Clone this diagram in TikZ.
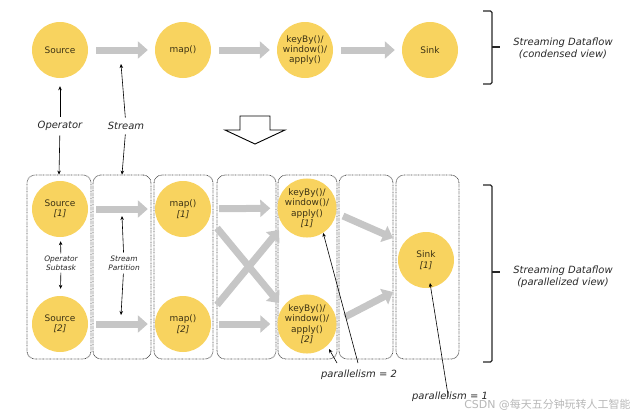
\documentclass[tikz,border=0pt]{standalone}
\usepackage{fontspec}
\setmainfont{DejaVu Sans}
\newfontfamily\cjk{Noto Sans CJK SC}
\usetikzlibrary{arrows.meta}
\definecolor{opyellow}{RGB}{248,211,95}
\definecolor{flowgray}{RGB}{198,198,198}
\definecolor{txtdark}{RGB}{40,40,40}
\definecolor{optxt}{RGB}{60,50,20}
\begin{document}
\begin{tikzpicture}[x=1bp,y=-1bp,
  op/.style={circle, fill=opyellow, minimum size=56bp, inner sep=0pt, align=center,
    font=\fontsize{9}{10.5}\selectfont, text=optxt},
  flow/.style={draw=flowgray, line width=7bp, -{Triangle[width=17bp,length=10bp]},
    shorten <=8bp, shorten >=7bp},
  flowc/.style={draw=flowgray, line width=7bp, -{Triangle[width=17bp,length=10bp]}},
  boxx/.style={draw=black!70, dash pattern=on 0.7bp off 0.7bp, line width=0.8bp, rounded corners=8bp,
    minimum height=184bp, inner sep=0pt},
  lbl/.style={font=\fontsize{10}{12}\selectfont\itshape, text=txtdark, align=center},
  slbl/.style={font=\fontsize{7.5}{9}\selectfont\itshape, text=txtdark, align=center, inner sep=1bp},
  ptr/.style={-{Stealth[length=4bp,width=3.5bp]}, line width=0.6bp, black},
  brk/.style={line width=1.1bp, black!85, rounded corners=1.5bp}
]
\useasboundingbox (0,0) rectangle (640,416);

% ---------- condensed view ----------
\node[op] (src) at (60,50) {Source};
\node[op] (map) at (183,50) {map()};
\node[op] (key) at (305,50) {keyBy()/\\window()/\\apply()};
\node[op] (sink) at (430,50) {Sink};
\draw[flow] (src) -- (map);
\draw[flow] (map) -- (key);
\draw[flow] (key) -- (sink);

\draw[brk] (483,11) -- (492,11) -- (492,84) -- (483,84);
\draw[brk] (492,47) -- (500,47);
\node[lbl] (cview) at (563,48) {Streaming Dataflow\\(condensed view)};

% labels
\node[lbl] (opl) at (60,126) {Operator};
\node[lbl] (stl) at (126,126) {Stream};
\coordinate (flowtop) at (121,64);

% hollow arrow
\draw[line width=0.9bp, fill=white] (240,116) -- (270,116) -- (270,130) -- (285,130)
  -- (255,144) -- (225,130) -- (240,130) -- cycle;

% ---------- parallelized view ----------
\node[boxx, minimum width=64bp] (b1) at (59,267) {};
\node[boxx, minimum width=58bp] (b2) at (122,267) {};
\node[boxx, minimum width=59bp] (b3) at (183.5,267) {};
\node[boxx, minimum width=59bp] (b4) at (246.5,267) {};
\node[boxx, minimum width=59bp] (b5) at (307.5,267) {};
\node[boxx, minimum width=54bp] (b6) at (366,267) {};
\node[boxx, minimum width=63bp] (b7) at (427.5,267) {};

\node[op] (s1) at (60,209) {Source\\\textit{[1]}};
\node[op] (s2) at (60,324) {Source\\\textit{[2]}};
\node[op] (m1) at (183,209) {map()\\\textit{[1]}};
\node[op] (m2) at (183,324) {map()\\\textit{[2]}};
\node[op] (k1) at (307,208) {keyBy()/\\window()/\\apply()\\\textit{[1]}};
\node[op] (k2) at (307,324) {keyBy()/\\window()/\\apply()\\\textit{[2]}};
\node[op] (sk) at (426,260) {Sink\\\textit{[1]}};

\draw[flow] (s1) -- (m1);
\draw[flow] (s2) -- (m2);
\draw[flow] (m1) -- (k1);
\draw[flow] (m2) -- (k2);
\coordinate (xa1) at (217,228);
\coordinate (xa2) at (279,303);
\coordinate (xb1) at (217,305);
\coordinate (xb2) at (279,230);
\draw[flowc] (xa1) -- (xa2);
\draw[flowc] (xb1) -- (xb2);
\coordinate (ka1) at (343,216);
\coordinate (ka2) at (393,238);
\coordinate (kb1) at (345,317);
\coordinate (kb2) at (393,292);
\draw[flowc] (ka1) -- (ka2);
\draw[flowc] (kb1) -- (kb2);

% pointers from top labels
\draw[ptr, shorten <=1bp, shorten >=8bp] (opl) -- (src);
\draw[ptr, shorten <=1bp] (opl) -- (b1.north);
\draw[ptr, shorten <=1bp] (stl) -- (flowtop);
\draw[ptr, shorten <=1bp] (stl) -- (b2.north);

% subtask / partition labels
\node[slbl] (ost) at (61,263) {Operator\\Subtask};
\node[slbl] (spl) at (124,263) {Stream\\Partition};
\coordinate (pt1) at (122,216);
\coordinate (pt2) at (121,315);
\draw[ptr, shorten <=1bp, shorten >=4bp] (ost) -- (s1);
\draw[ptr, shorten <=1bp, shorten >=7bp] (ost) -- (s2);
\draw[ptr, shorten <=2bp] (spl) -- (pt1);
\draw[ptr, shorten <=2bp] (spl) -- (pt2);

% bracket parallelized
\draw[brk] (483,185) -- (492,185) -- (492,362) -- (483,362);
\draw[brk] (492,272) -- (500,272);
\node[lbl] (pview) at (563,277) {Streaming Dataflow\\(parallelized view)};

% parallelism labels
\node[lbl] (p2l) at (359,375) {parallelism = 2};
\node[lbl] (p1l) at (450,397) {parallelism = 1};
\coordinate (pa) at (337,363);
\coordinate (pb) at (329,349);
\coordinate (pc) at (358,363);
\coordinate (pd) at (430,283);
\draw[ptr] (pa) -- (pb);
\draw[ptr] (pc) -- (k1.-57);
\draw[ptr, shorten <=-8bp] (p1l.north) ++(-3,0) coordinate (pe) (pe) -- (pd);

% watermark
\node[font=\fontsize{11}{12}\selectfont, text=black!28, anchor=east] (wm) at (634,405) {CSDN @{\cjk 每天五分钟玩转人工智能}};
\end{tikzpicture}
\end{document}
